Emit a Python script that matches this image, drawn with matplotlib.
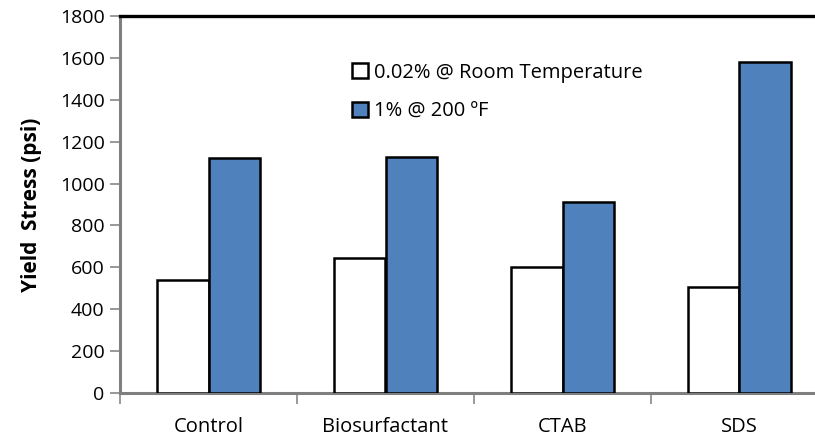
import matplotlib.pyplot as plt
import numpy as np

categories = ['Control', 'Biosurfactant', 'CTAB', 'SDS']
room_temp = [540, 645, 600, 505]
hot_200f = [1120, 1125, 910, 1580]
series_names = ['0.02% @ Room Temperature', '1% @ 200 ºF']

plt.rcParams['font.family'] = ['Open Sans', 'DejaVu Sans']

fig = plt.figure(figsize=(8.15, 4.41), dpi=100)
# plot area runs past the right edge of the picture, like the original crop
ax = fig.add_axes([120 / 815, 48 / 441, 708 / 815, 377 / 441])

x = np.arange(len(categories))
w = 0.29
ax.bar(x - w / 2, room_temp, w, color='white', edgecolor='black',
       linewidth=1.8, label=series_names[0], zorder=3)
ax.bar(x + w / 2, hot_200f, w, color='#4f81bd', edgecolor='black',
       linewidth=1.8, label=series_names[1], zorder=3)

ax.set_xlim(-0.5, len(categories) - 0.5)
ax.set_ylim(0, 1800)
ax.set_yticks(np.arange(0, 1801, 200))
ax.set_xticks(x)
ax.set_xticklabels(categories, fontsize=14.5)
ax.set_xticks(np.arange(-0.5, len(categories)), minor=True)
ax.tick_params(axis='x', which='major', length=0, pad=17)
ax.tick_params(axis='x', which='minor', length=8, width=1.2, color='#888888',
               direction='out')
ax.tick_params(axis='y', length=7, width=1.2, color='#888888',
               direction='out', labelsize=14, pad=4)

ax.spines['top'].set_linewidth(2.4)
ax.spines['top'].set_color('black')
ax.spines['right'].set_visible(False)
for s in ('left', 'bottom'):
    ax.spines[s].set_color('#7f7f7f')
    ax.spines[s].set_linewidth(2.2)

ax.set_ylabel('Yield  Stress (psi)', fontsize=15, fontweight='bold',
              labelpad=13)

ax.legend(loc='upper left', bbox_to_anchor=(0.317, 0.898), frameon=False,
          fontsize=14.5, handlelength=0.75, handleheight=0.75,
          handletextpad=0.3, labelspacing=0.95, borderaxespad=0)

fig.savefig('out.png', dpi=100)
